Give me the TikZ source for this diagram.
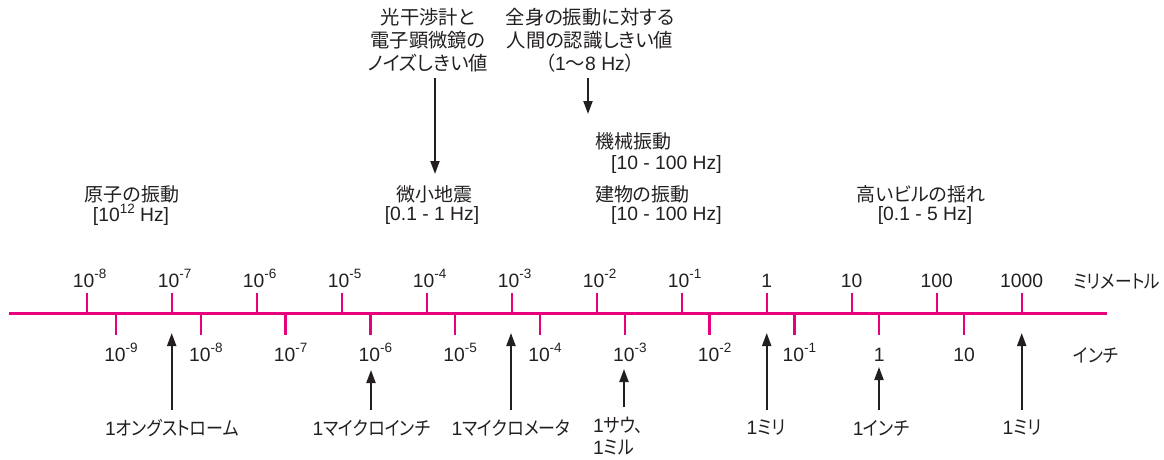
\documentclass[tikz,border=0pt]{standalone}
\usepackage{fontspec}
\setmainfont{Liberation Sans}
\newfontfamily\jp[RawFeature=+palt]{Noto Sans CJK JP}
\newfontfamily\jpk[RawFeature=+palt,FakeStretch=0.88]{Noto Sans CJK JP}
\usetikzlibrary{arrows.meta}
\definecolor{axispink}{HTML}{E6007E}
\definecolor{ink}{HTML}{231F20}
\newcommand\pw[1]{10\raisebox{0.42em}{\fontsize{13.5}{13.5}\selectfont #1}}
\begin{document}
\begin{tikzpicture}[x=1pt,y=-1pt,
  txt/.style={font=\fontsize{19.3}{23}\selectfont, text=ink, inner sep=0pt},
  jtxt/.style={font=\fontsize{19}{23}\selectfont\jp, text=ink, inner sep=0pt},
  ktxt/.style={font=\fontsize{19}{23}\selectfont\jpk, text=ink, inner sep=0pt},
  axisline/.style={draw=axispink, line width=3pt},
  tickline/.style={draw=axispink, line width=2.4pt},
  arw/.style={draw=ink, line width=2pt, -{Triangle[length=13pt,width=9pt]}}]
\useasboundingbox (0,0) rectangle (1164,460);

% axis
\coordinate (axL) at (9,313);
\coordinate (axR) at (1107,313);
\draw[axisline] (axL) -- (axR);

% millimetre ticks
\foreach \lab/\dx [count=\i from 0] in {{\pw{-8}}/3,{\pw{-7}}/3,{\pw{-6}}/3,{\pw{-5}}/3,{\pw{-4}}/3,{\pw{-3}}/3,{\pw{-2}}/3,{\pw{-1}}/3,{1}/0,{10}/0,{100}/0,{1000}/0}{
  \draw[tickline] (86.7+85*\i,313) -- (86.7+85*\i,293);
  \node[txt,anchor=base] (mm\i) at (86.7+85*\i+\dx,287) {\lab};
}
% inch ticks
\foreach \lab/\dx [count=\i from 0] in {{\pw{-9}}/5,{\pw{-8}}/5,{\pw{-7}}/5,{\pw{-6}}/5,{\pw{-5}}/5,{\pw{-4}}/5,{\pw{-3}}/5,{\pw{-2}}/5,{\pw{-1}}/5,{1}/0,{10}/0}{
  \draw[tickline] (116+84.8*\i,313) -- (116+84.8*\i,335);
  \node[txt,anchor=base] (in\i) at (116+84.8*\i+\dx,361) {\lab};
}
\node[ktxt,anchor=west] (unitmm) at (1073,282) {ミリメートル};
\node[ktxt,anchor=west] (unitin) at (1073,355) {インチ};

% top labels
\node[txt,align=center] (noise) at (428,40) {{\jp 光干渉計と}\\{\jp 電子顕微鏡の}\\{\jp ノイズしきい値}};
\node[txt,align=center] (human) at (590,40) {{\jp 全身の振動に対する}\\{\jp 人間の認識しきい値}\\{\jp （}1{\jp ～}8 Hz{\jp ）}};
\coordinate (n0) at (435,78);
\coordinate (n1) at (435,174);
\draw[arw] (n0) -- (n1);
\coordinate (h0) at (588,78);
\coordinate (h1) at (588,114);
\draw[arw] (h0) -- (h1);

\node[jtxt,anchor=west] (mech) at (595,141) {機械振動};
\node[txt,anchor=west] (mechf) at (611,165) {[10 - 100 Hz]};
\node[jtxt,anchor=west] (bldg) at (595,194) {建物の振動};
\node[txt,anchor=west] (bldgf) at (611,216) {[10 - 100 Hz]};
\node[jtxt] (atom) at (132,194) {原子の振動};
\node[txt] (atomf) at (131,215) {[\pw{12} Hz]};
\node[jtxt] (quake) at (434,194) {微小地震};
\node[txt] (quakef) at (432,216) {[0.1 - 1 Hz]};
\node[jtxt] (tall) at (921,194) {高いビルの揺れ};
\node[txt] (tallf) at (925,216) {[0.1 - 5 Hz]};

% bottom labels and arrows
\node[txt] (lA) at (172,428) {1{\jpk オングストローム}};
\coordinate (a0) at (171.7,410); \coordinate (a1) at (171.7,333);
\draw[arw] (a0) -- (a1);

\node[txt] (lMI) at (371.5,428) {1{\jpk マイクロインチ}};
\coordinate (b0) at (371,410); \coordinate (b1) at (371,370);
\draw[arw] (b0) -- (b1);

\node[txt] (lMM) at (511,428) {1{\jpk マイクロメータ}};
\coordinate (c0) at (511,410); \coordinate (c1) at (511,333);
\draw[arw] (c0) -- (c1);

\node[txt,anchor=west,align=left,font=\fontsize{19.3}{22}\selectfont] (lTh) at (593,436) {1{\jpk サウ、}\\1{\jpk ミル}};
\coordinate (d0) at (624,407); \coordinate (d1) at (624,369);
\draw[arw] (d0) -- (d1);

\node[txt] (lmm) at (766,428) {1{\jpk ミリ}};
\coordinate (e0) at (766.7,410); \coordinate (e1) at (766.7,333);
\draw[arw] (e0) -- (e1);

\node[txt] (lin) at (881,428) {1{\jpk インチ}};
\coordinate (f0) at (879,410); \coordinate (f1) at (879,367);
\draw[arw] (f0) -- (f1);

\node[txt] (lm) at (1022,428) {1{\jpk ミリ}};
\coordinate (g0) at (1021.7,410); \coordinate (g1) at (1021.7,333);
\draw[arw] (g0) -- (g1);
\end{tikzpicture}
\end{document}
